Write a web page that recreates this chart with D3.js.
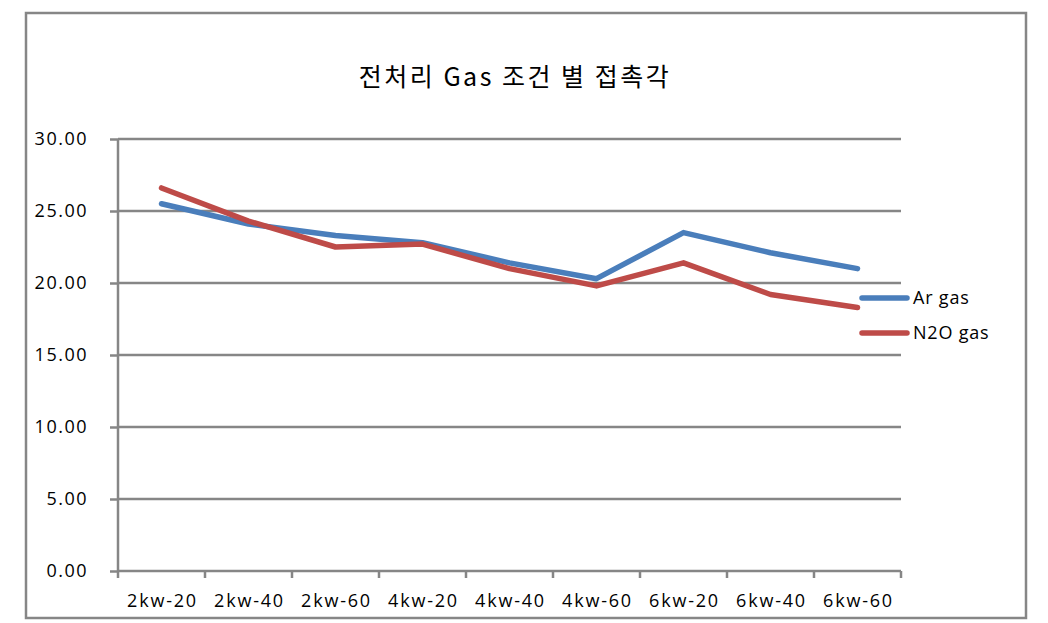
<!DOCTYPE html>
<html><head><meta charset="utf-8">
<script src="https://cdn.jsdelivr.net/npm/d3@7"></script>
<style>body{margin:0;background:#fff}</style>
</head><body>
<svg id="c" width="1048" height="623"></svg>
<script>
const categories = ["2kw-20","2kw-40","2kw-60","4kw-20","4kw-40","4kw-60","6kw-20","6kw-40","6kw-60"];
const arGas  = [25.5, 24.1, 23.3, 22.8, 21.4, 20.3, 23.5, 22.1, 21.0];
const n2oGas = [26.6, 24.3, 22.5, 22.7, 21.0, 19.8, 21.4, 19.2, 18.3];
const yTicks = [0, 5, 10, 15, 20, 25, 30];
const seriesNames = ["Ar gas", "N2O gas"];
const colors = ["#4a7ebb", "#be4b48"];

const svg = d3.select("#c");
const font = "'Open Sans','Noto Sans',sans-serif";

svg.append("rect").attr("x",26).attr("y",13).attr("width",1000).attr("height",605)
  .attr("fill","#fff").attr("stroke","#868686").attr("stroke-width",2.5);

svg.append("text").attr("x",515).attr("y",86).attr("text-anchor","middle")
  .attr("font-family","'Noto Sans CJK KR',sans-serif").attr("font-size",25)
  .attr("letter-spacing",2.5).attr("fill","#000")
  .text("전처리 Gas 조건 별 접촉각");

const L=118, R=901, T=139, B=571;
const x = d3.scaleBand().domain(categories).range([L,R]);
const y = d3.scaleLinear().domain([0,30]).range([B,T]);

// gridlines
svg.append("g").selectAll("line").data(yTicks.filter(d=>d>0)).join("line")
  .attr("x1",L).attr("x2",R).attr("y1",d=>y(d)).attr("y2",d=>y(d))
  .attr("stroke","#868686").attr("stroke-width",2.5);

// y axis
const ya = svg.append("g").attr("transform",`translate(${L},0)`)
  .call(d3.axisLeft(y).tickValues(yTicks).tickFormat(d3.format(".2f")).tickSize(8).tickPadding(22));
ya.select(".domain").attr("stroke","#868686").attr("stroke-width",2.5).attr("d",`M0,${T}V${B}`);
ya.selectAll(".tick line").attr("stroke","#868686").attr("stroke-width",2.5);
ya.selectAll("text").attr("font-family",font).attr("font-size",18).attr("letter-spacing",1.5).attr("fill","#000");

// x axis
const xa = svg.append("g").attr("transform",`translate(0,${B})`);
xa.append("line").attr("x1",L).attr("x2",R).attr("y1",0).attr("y2",0)
  .attr("stroke","#868686").attr("stroke-width",2.5);
const bounds = categories.map(c=>x(c)).concat([R]);
xa.selectAll("line.t").data(bounds).join("line").attr("class","t")
  .attr("x1",d=>d).attr("x2",d=>d).attr("y1",0).attr("y2",7)
  .attr("stroke","#868686").attr("stroke-width",2.5);
xa.selectAll("text").data(categories).join("text")
  .attr("x",d=>x(d)+x.bandwidth()/2+1).attr("y",36).attr("text-anchor","middle")
  .attr("font-family",font).attr("font-size",18).attr("letter-spacing",1.8).attr("fill","#000").text(d=>d);

// lines
const line = d3.line().x((d,i)=>x(categories[i])+x.bandwidth()/2).y(d=>y(d));
[arGas, n2oGas].forEach((s,i)=>{
  svg.append("path").datum(s).attr("d",line).attr("fill","none")
    .attr("stroke",colors[i]).attr("stroke-width",5.5).attr("stroke-linejoin","round").attr("stroke-linecap","round");
});

// legend
seriesNames.forEach((n,i)=>{
  const ly = 298 + i*35;
  svg.append("line").attr("x1",862).attr("x2",907).attr("y1",ly).attr("y2",ly)
    .attr("stroke",colors[i]).attr("stroke-width",5.5).attr("stroke-linecap","round");
  svg.append("text").attr("x",913).attr("y",ly+6).attr("font-family",font).attr("font-size",18)
    .attr("letter-spacing",0.8).attr("fill","#000").text(n);
});
</script>
</body></html>
